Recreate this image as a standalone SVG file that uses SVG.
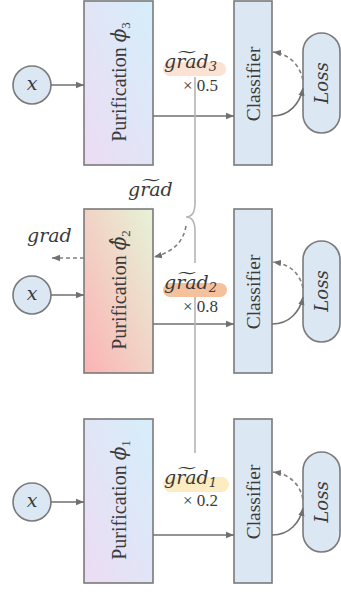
<svg xmlns="http://www.w3.org/2000/svg" width="341" height="592" viewBox="0 0 341 592">
<style>
.box{stroke:#7a7a7a;stroke-width:1.6}
.cls{fill:#dce7f4;stroke:#7a7a7a;stroke-width:1.6}
.ln{stroke:#707070;stroke-width:1.6;fill:none}
.dash{stroke:#808080;stroke-width:1.6;fill:none;stroke-dasharray:4 3}
.br{stroke:#b4b4b4;stroke-width:1.6;fill:none}
.rm{font-family:"Liberation Serif","DejaVu Serif",serif;fill:#3a3a3a}
.mi{font-family:"DejaVu Serif","Liberation Serif",serif;font-style:italic;fill:#3a3a3a}
.lbl{font-size:20px}
.cl{font-size:19.5px}
.num{font-size:17px}
.g{font-size:19px}
.sub{font-size:13px}
.lo{font-size:18px}
.xv{font-size:19px}
</style>
<defs>
<linearGradient id="gBlue" x1="1" y1="0" x2="0" y2="1">
<stop offset="0" stop-color="#d5eefa"/><stop offset="1" stop-color="#eddcf3"/>
</linearGradient>
<linearGradient id="gRed" x1="1" y1="0" x2="0" y2="1">
<stop offset="0" stop-color="#e6f3d7"/><stop offset="1" stop-color="#fcb3b3"/>
</linearGradient>
<marker id="ah" viewBox="0 0 10 10" refX="10" refY="5" markerWidth="8" markerHeight="8" markerUnits="userSpaceOnUse" orient="auto">
<path d="M0,1 L10,5 L0,9 z" fill="#707070"/>
</marker>
</defs>

<!-- Row 3 (top) -->
<g id="x3"><circle cx="32" cy="85" r="19" class="cls"/><text class="mi xv" x="32" y="90" text-anchor="middle">x</text></g>
<g id="pur3"><rect x="84" y="1" width="69" height="164" fill="url(#gBlue)" class="box"/>
<text class="rm lbl" transform="translate(126,82) rotate(-90)" text-anchor="middle">Purification <tspan class="mi">ϕ</tspan><tspan class="sub" dy="4">3</tspan></text></g>
<g id="cls3"><rect x="234" y="1" width="38" height="164" class="cls"/>
<text class="rm cl" transform="translate(260,84) rotate(-90)" text-anchor="middle">Classifier</text></g>
<g id="loss3"><rect x="303" y="33" width="37" height="100" rx="18.5" class="cls"/>
<text class="mi lo" transform="translate(328,83) rotate(-90)" text-anchor="middle">Loss</text></g>

<!-- Row 2 (middle) -->
<g id="x2"><circle cx="32" cy="295" r="19" class="cls"/><text class="mi xv" x="32" y="300" text-anchor="middle">x</text></g>
<g id="pur2"><rect x="84" y="209" width="69" height="164" fill="url(#gRed)" class="box"/>
<text class="rm lbl" transform="translate(126,290) rotate(-90)" text-anchor="middle">Purification <tspan class="mi">ϕ̂</tspan><tspan class="sub" dy="4">2</tspan></text></g>
<g id="cls2"><rect x="234" y="209" width="38" height="164" class="cls"/>
<text class="rm cl" transform="translate(260,292) rotate(-90)" text-anchor="middle">Classifier</text></g>
<g id="loss2"><rect x="303" y="241" width="37" height="101" rx="18.5" class="cls"/>
<text class="mi lo" transform="translate(328,291) rotate(-90)" text-anchor="middle">Loss</text></g>

<!-- Row 1 (bottom) -->
<g id="x1"><circle cx="32" cy="502" r="19" class="cls"/><text class="mi xv" x="32" y="507" text-anchor="middle">x</text></g>
<g id="pur1"><rect x="84" y="419" width="69" height="164" fill="url(#gBlue)" class="box"/>
<text class="rm lbl" transform="translate(126,500) rotate(-90)" text-anchor="middle">Purification <tspan class="mi">ϕ</tspan><tspan class="sub" dy="4">1</tspan></text></g>
<g id="cls1"><rect x="234" y="419" width="38" height="164" class="cls"/>
<text class="rm cl" transform="translate(260,502) rotate(-90)" text-anchor="middle">Classifier</text></g>
<g id="loss1"><rect x="303" y="452" width="37" height="100" rx="18.5" class="cls"/>
<text class="mi lo" transform="translate(328,502) rotate(-90)" text-anchor="middle">Loss</text></g>

<!-- gradient labels -->
<g id="lab3">
<rect x="163" y="62" width="63" height="14" rx="7" fill="#fbe2d3"/>
<text class="mi g" x="164" y="68">gr͠ad<tspan class="sub" dy="3">3</tspan></text>
<text class="rm num" x="183" y="91">× 0.5</text>
</g>
<g id="lab2">
<rect x="163" y="283" width="64" height="14" rx="7" fill="#f5c19d"/>
<text class="mi g" x="164" y="289">gr͠ad<tspan class="sub" dy="3">2</tspan></text>
<text class="rm num" x="183" y="312">× 0.8</text>
</g>
<g id="lab1">
<rect x="163" y="477" width="66" height="15" rx="7.5" fill="#fdecc2"/>
<text class="mi g" x="164" y="484">gr͠ad<tspan class="sub" dy="3">1</tspan></text>
<text class="rm num" x="183" y="506">× 0.2</text>
</g>
<g id="labsum"><text class="mi g" x="128" y="196">gr͠ad</text></g>
<g id="labgrad"><text class="mi g" x="27" y="242">grad</text></g>

<!-- connectors -->
<g id="connectors">
<line x1="51" y1="85" x2="84" y2="85" class="ln" marker-end="url(#ah)"/>
<line x1="51" y1="295" x2="84" y2="295" class="ln" marker-end="url(#ah)"/>
<line x1="51" y1="502" x2="84" y2="502" class="ln" marker-end="url(#ah)"/>
<line x1="153" y1="116" x2="234" y2="116" class="ln" marker-end="url(#ah)"/>
<line x1="153" y1="324" x2="234" y2="324" class="ln" marker-end="url(#ah)"/>
<line x1="153" y1="535" x2="234" y2="535" class="ln" marker-end="url(#ah)"/>
<path d="M272,116 C290,116 300,103 303,88" class="ln" marker-end="url(#ah)"/>
<path d="M303,80 C299,63 288,54 273,52" class="dash" marker-end="url(#ah)"/>
<path d="M272,324 C290,324 300,311 303,297" class="ln" marker-end="url(#ah)"/>
<path d="M303,288 C299,271 288,264 273,262" class="dash" marker-end="url(#ah)"/>
<path d="M272,535 C290,535 300,522 303,508" class="ln" marker-end="url(#ah)"/>
<path d="M303,499 C299,482 288,474 273,472" class="dash" marker-end="url(#ah)"/>
<line x1="84" y1="258" x2="52" y2="258" class="dash" marker-end="url(#ah)"/>
<path d="M195,77 V203 Q195,217 186,217 Q195,217 195,231 V263" class="br"/>
<line x1="195" y1="297" x2="195" y2="453" class="br"/>
<path d="M186,226 Q182,250 154,257" class="dash" marker-end="url(#ah)"/>
</g>
</svg>
